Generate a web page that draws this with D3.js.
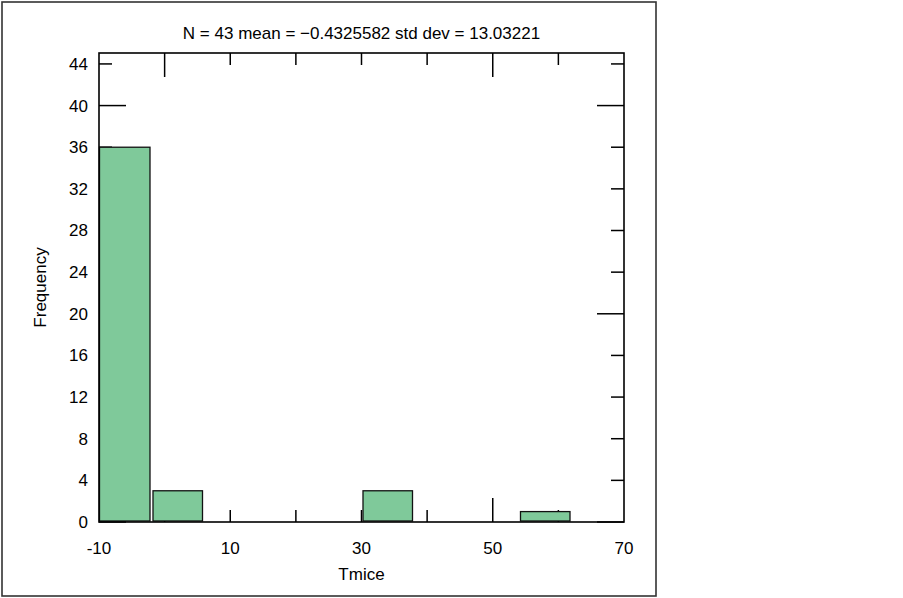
<!DOCTYPE html>
<html>
<head>
<meta charset="utf-8">
<script src="https://cdn.jsdelivr.net/npm/d3@7"></script>
<style>
  body { margin: 0; background: #fff; }
  text { font-family: "Liberation Sans", Arial, sans-serif; fill: #000; }
</style>
</head>
<body>
<svg id="chart" width="903" height="598"></svg>
<script>
// histogram of Tmice, bins of width 8 starting at -10
var binStarts = [-10, -2, 30, 54];
var binCounts = [36, 3, 3, 1];
var binWidth = 8;

var xMajor = [0, 50];
var xMinor = [10, 20, 30, 40, 60];
var xLabels = [-10, 10, 30, 50, 70];
var yMajor = [0, 20, 40];
var yMinor = [4, 8, 12, 16, 24, 28, 32, 36, 44];
var yLabels = [0, 4, 8, 12, 16, 20, 24, 28, 32, 36, 40, 44];

var title = "N = 43 mean = \u22120.4325582 std dev = 13.03221";
var xTitle = "Tmice";
var yTitle = "Frequency";

var svg = d3.select("#chart");
var margin = { top: 53, left: 99, right: 279, bottom: 76 };
var width = 903 - margin.left - margin.right,
    height = 598 - margin.top - margin.bottom;

var x = d3.scaleLinear().domain([-10, 70]).range([margin.left, margin.left + width]);
var y = d3.scaleLinear().domain([0, 45.05]).range([margin.top + height, margin.top]);

// outer frame
svg.append("rect")
    .attr("x", 2).attr("y", 2)
    .attr("width", 654).attr("height", 594)
    .attr("fill", "none")
    .attr("stroke", "#333")
    .attr("stroke-width", 1.6);

var x0 = x.range()[0], x1 = x.range()[1],
    y0 = y.range()[0], y1 = y.range()[1];

// inward ticks on all four sides
var ticks = svg.append("g").attr("stroke", "#000").attr("stroke-width", 1.5);
function tickLen(major) { return major ? 24 : 12; }

xMajor.map(v => [v, true]).concat(xMinor.map(v => [v, false])).forEach(function (t) {
    var px = x(t[0]);
    ticks.append("line").attr("x1", px).attr("x2", px).attr("y1", y0).attr("y2", y0 - tickLen(t[1]));
    ticks.append("line").attr("x1", px).attr("x2", px).attr("y1", y1).attr("y2", y1 + tickLen(t[1]));
});
yMajor.map(v => [v, true]).concat(yMinor.map(v => [v, false])).forEach(function (t) {
    var py = y(t[0]);
    var len = t[1] ? 27 : 13;
    ticks.append("line").attr("y1", py).attr("y2", py).attr("x1", x0).attr("x2", x0 + len);
    ticks.append("line").attr("y1", py).attr("y2", py).attr("x1", x1).attr("x2", x1 - len);
});

// bars
svg.append("g").selectAll("rect")
    .data(binStarts)
    .enter().append("rect")
    .attr("x", (d, i) => x(d) + (i == 0 ? 0.5 : 1.5))
    .attr("width", (d, i) => x(d + binWidth) - x(d) - (i == 0 ? 2 : 3))
    .attr("y", (d, i) => y(binCounts[i]))
    .attr("height", (d, i) => y(0) - y(binCounts[i]) - 1)
    .attr("fill", "#7fc99a")
    .attr("stroke", "#111")
    .attr("stroke-width", 1.3);

// plot box
svg.append("rect")
    .attr("x", x0).attr("y", y1)
    .attr("width", x1 - x0).attr("height", y0 - y1)
    .attr("fill", "none")
    .attr("stroke", "#000")
    .attr("stroke-width", 1.6);

// tick labels
svg.append("g").selectAll("text")
    .data(xLabels)
    .enter().append("text")
    .attr("x", d => x(d))
    .attr("y", y0 + 32)
    .attr("text-anchor", "middle")
    .style("font-size", "17px")
    .text(d => d);

svg.append("g").selectAll("text")
    .data(yLabels)
    .enter().append("text")
    .attr("x", x0 - 11)
    .attr("y", d => y(d))
    .attr("dy", "0.35em")
    .attr("text-anchor", "end")
    .style("font-size", "17px")
    .text(d => d);

// titles
svg.append("text")
    .attr("x", (x0 + x1) / 2)
    .attr("y", 39)
    .attr("text-anchor", "middle")
    .style("font-size", "17px")
    .text(title);

svg.append("text")
    .attr("x", (x0 + x1) / 2)
    .attr("y", 580)
    .attr("text-anchor", "middle")
    .style("font-size", "17px")
    .text(xTitle);

svg.append("text")
    .attr("transform", "translate(46," + (y0 + y1) / 2 + ") rotate(-90)")
    .attr("text-anchor", "middle")
    .style("font-size", "17px")
    .text(yTitle);
</script>
</body>
</html>
